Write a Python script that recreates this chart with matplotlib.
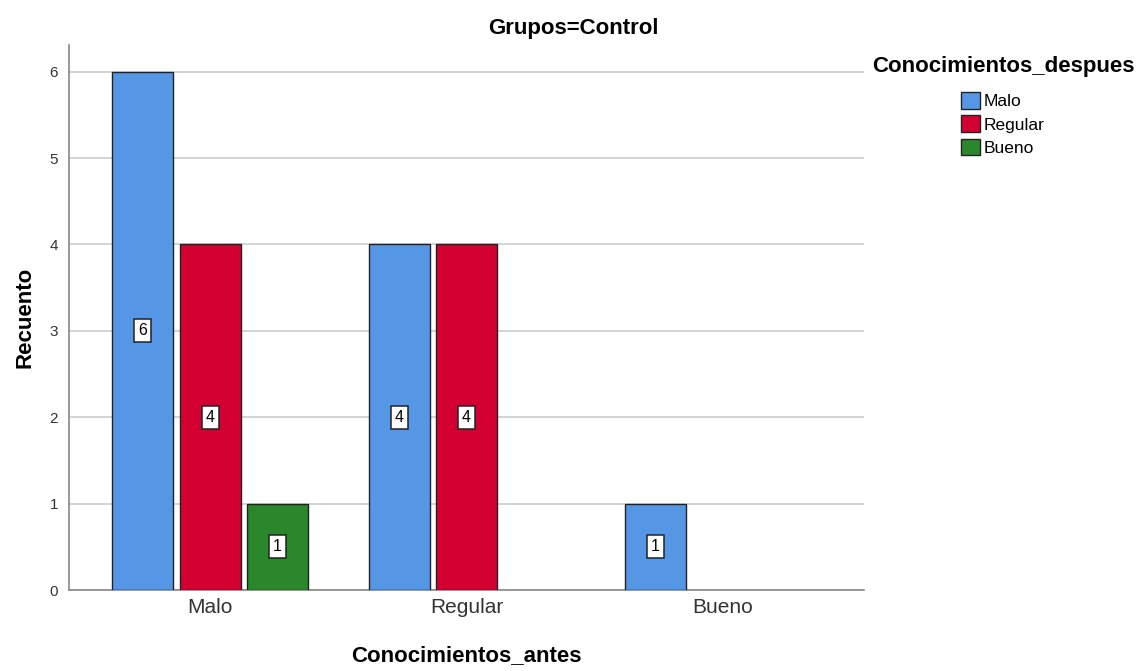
import numpy as np
import matplotlib
matplotlib.use('Agg')
import matplotlib.pyplot as plt
from matplotlib.patches import Patch

plt.rcParams['font.family'] = ['Liberation Sans', 'DejaVu Sans']

# data
antes = ['Malo', 'Regular', 'Bueno']
despues = ['Malo', 'Regular', 'Bueno']
counts = {
    'Malo':    [6, 4, 1],   # by Conocimientos_antes
    'Regular': [4, 4, 0],
    'Bueno':   [1, 0, 0],
}
colors = {'Malo': '#5596E5', 'Regular': '#D50032', 'Bueno': '#2B872B'}

fig = plt.figure(figsize=(11.46, 6.71), dpi=100)
ax = fig.add_axes([0.0602, 0.1207, 0.6938, 0.8123])

x = np.arange(len(antes))
width = 0.238
step = 0.263
for i, d in enumerate(despues):
    vals = np.array(counts[d])
    pos = x + (i - 1) * step
    mask = vals > 0
    ax.bar(pos[mask], vals[mask], width=width, color=colors[d],
           edgecolor='#222222', linewidth=1.0, zorder=3)
    for p, v in zip(pos[mask], vals[mask]):
        ax.text(p, v / 2, str(v), ha='center', va='center', fontsize=11.5,
                zorder=4,
                bbox=dict(boxstyle='square,pad=0.25', fc='white', ec='#222222', lw=1.1))

ax.set_xlim(-0.55, 2.55)
ax.set_ylim(0, 6.31)
ax.set_yticks(range(7))
ax.set_xticks(x)
ax.set_xticklabels(antes, fontsize=15, color='#333333')
ax.tick_params(axis='y', labelsize=11, colors='#333333', length=0, pad=8)
ax.tick_params(axis='x', length=0, pad=6)
ax.grid(axis='y', color='#CCCCCC', linewidth=1.2, zorder=0)
for s in ['top', 'right']:
    ax.spines[s].set_visible(False)
for s in ['left', 'bottom']:
    ax.spines[s].set_color('#888888')
    ax.spines[s].set_linewidth(1.2)

ax.set_xlabel('Conocimientos_antes', fontsize=16, fontweight='bold', labelpad=20)
ax.set_ylabel('Recuento', fontsize=16, fontweight='bold', labelpad=10)
fig.text(0.5, 0.958, 'Grupos=Control', ha='center', va='center',
         fontsize=16, fontweight='bold')

handles = [Patch(facecolor=colors[d], edgecolor='#222222', label=d) for d in despues]
leg = fig.legend(handles=handles, title='Conocimientos_despues',
                 loc='upper left', bbox_to_anchor=(0.747, 0.94),
                 frameon=False, fontsize=12.5, title_fontsize=16,
                 handlelength=1.1, handleheight=1.1, handletextpad=0.2,
                 labelspacing=0.35)
leg.get_title().set_fontweight('bold')
leg._legend_box.align = 'center'
leg._legend_box.sep = 11

fig.savefig('out.png', dpi=100)
